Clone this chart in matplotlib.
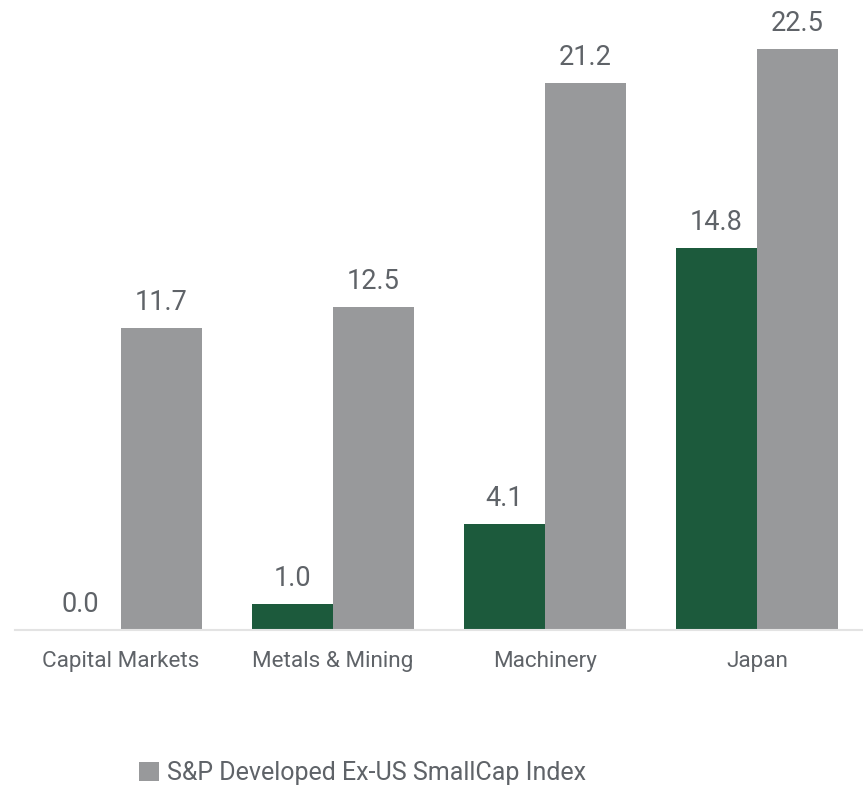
import matplotlib.pyplot as plt
import numpy as np

plt.rcParams['font.family'] = ['Roboto', 'DejaVu Sans']

### Data
categories = ["Capital Markets", "Metals & Mining", "Machinery", "Japan"]
green_values = [0.0, 1.0, 4.1, 14.8]
gray_values = [11.7, 12.5, 21.2, 22.5]
legend_label = "S&P Developed Ex-US SmallCap Index"

### Style
green = "#1c5a3c"
gray = "#98999b"
text_color = "#5f6368"
width = 0.382

def main():
    fig = plt.figure(figsize=(8.63, 7.87), dpi=100)
    ax = fig.add_axes([15 / 863, 157 / 787, 848 / 863, 630 / 787])
    x = np.arange(len(categories))

    b1 = ax.bar(x - width / 2, green_values, width, color=green)
    b2 = ax.bar(x + width / 2, gray_values, width, color=gray, label=legend_label)

    for bars, vals in ((b1, green_values), (b2, gray_values)):
        for rect, v in zip(bars, vals):
            ax.annotate(f"{v:.1f}", (rect.get_x() + rect.get_width() / 2, v),
                        xytext=(0, 12), textcoords="offset pixels",
                        ha="center", va="bottom", fontsize=19.5, color=text_color)

    ax.set_xlim(-0.5, 3.5)
    ax.set_ylim(0, 630 / (581 / 22.5))
    ax.set_xticks(x)
    ax.set_xticklabels(categories, fontsize=16.2, color=text_color)
    ax.tick_params(axis="x", length=0, pad=15)
    ax.set_yticks([])
    for s in ("top", "right", "left"):
        ax.spines[s].set_visible(False)
    ax.spines["bottom"].set_color("#e3e3e3")
    ax.spines["bottom"].set_linewidth(1.5)

    fig.legend(handles=[b2], labels=[legend_label], loc="center left",
               bbox_to_anchor=(116 / 863, 1 - 773 / 787), frameon=False,
               fontsize=18, labelcolor=text_color, handlelength=0.8,
               handleheight=0.8, handletextpad=0.35)

    fig.savefig("out.png", dpi=100)

if __name__ == "__main__":
    main()
